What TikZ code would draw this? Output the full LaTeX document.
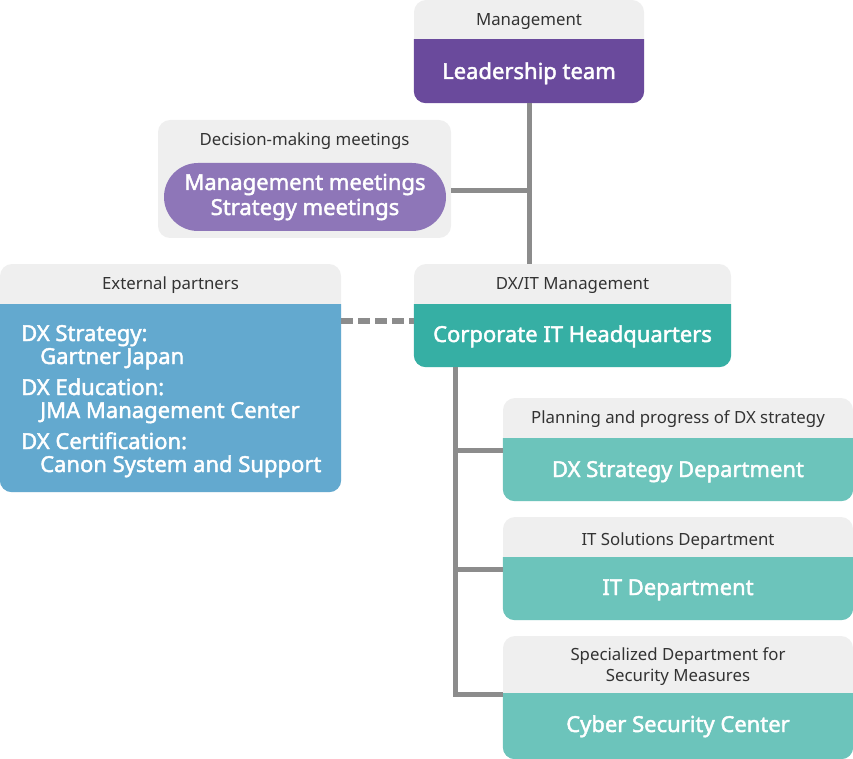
\documentclass[tikz,border=0pt]{standalone}
\usepackage{fontspec}
\setmainfont{Noto Sans}
\newfontfamily\medfont[FakeBold=2]{Noto Sans}
\definecolor{hdr}{HTML}{EFEFEF}
\definecolor{purp}{HTML}{6A4A9C}
\definecolor{pill}{HTML}{8E76B8}
\definecolor{extblue}{HTML}{63A9CF}
\definecolor{tealdark}{HTML}{36AFA4}
\definecolor{teallight}{HTML}{6CC4BB}
\definecolor{conn}{HTML}{8C8C8C}
\definecolor{txt}{HTML}{333333}
\newcommand\lowpart[3]{%
  \begin{scope}
    \clip (#1.west |- 0,#2) rectangle (#1.south east);
    \fill[#3, rounded corners=12pt] (#1.north west) rectangle (#1.south east);
  \end{scope}}
\begin{document}
\begin{tikzpicture}[x=1pt,y=-1pt,
  box/.style={rectangle, rounded corners=12pt, fill=hdr, inner sep=0pt},
  hdrtxt/.style={anchor=base, text=txt, font=\fontsize{16.8}{20}\selectfont, inner sep=0pt},
  maintxt/.style={anchor=base, text=white, font=\fontsize{22}{26}\selectfont\medfont, inner sep=0pt},
  exttxt/.style={anchor=base west, text=white, font=\fontsize{22}{26}\selectfont\medfont, inner sep=0pt},
  link/.style={draw=conn, line width=5pt},
  dashlink/.style={draw=conn, line width=6pt, dash pattern=on 12pt off 5pt}]
\useasboundingbox (0,0) rectangle (853,759);
% boxes
\node[box, minimum width=230pt, minimum height=103pt] (mgmt) at (529,51.5) {};
\lowpart{mgmt}{40}{purp}
\node[box, minimum width=293pt, minimum height=118pt] (dec) at (304.5,179) {};
\node[rectangle, rounded corners=34pt, fill=pill, minimum width=282pt, minimum height=68pt, inner sep=0pt] (pillnode) at (305,197) {};
\node[box, minimum width=341pt, minimum height=228pt] (ext) at (170.5,378) {};
\lowpart{ext}{304}{extblue}
\node[box, minimum width=317pt, minimum height=103pt] (dxit) at (572.5,315.5) {};
\lowpart{dxit}{304}{tealdark}
\node[box, minimum width=350pt, minimum height=103pt] (s1) at (678,449.5) {};
\lowpart{s1}{438}{teallight}
\node[box, minimum width=350pt, minimum height=103pt] (s2) at (678,568.5) {};
\lowpart{s2}{557}{teallight}
\node[box, minimum width=350pt, minimum height=123pt] (s3) at (678,697.5) {};
\lowpart{s3}{693}{teallight}
% connectors
\coordinate (j1) at (529,191);
\coordinate (d1) at (414,321);
\coordinate (trunk) at (455,367);
\coordinate (b1) at (455,450);
\coordinate (b2) at (455,569);
\coordinate (b3) at (455,694);
\draw[link] (mgmt.south) -- (mgmt.south |- dxit.north);
\draw[link] (dec.east |- j1) -- (j1);
\draw[dashlink] (ext.east |- d1) -- (dxit.west |- d1);
\draw[link] (trunk) -- (b3) -- (s3.west |- b3);
\draw[link] (b1) -- (s1.west |- b1);
\draw[link] (b2) -- (s2.west |- b2);
% texts
\node[hdrtxt] (t1) at (529,26) {Management};
\node[maintxt] (t2) at (529,79) {Leadership team};
\node[hdrtxt] (t3) at (304.5,146) {Decision-making meetings};
\node[maintxt] (t4) at (305,190) {Management meetings};
\node[maintxt] (t5) at (305,215) {Strategy meetings};
\node[hdrtxt] (t6) at (170.5,289) {External partners};
\node[exttxt] (e1) at (21,341) {DX Strategy:};
\node[exttxt] (e2) at (40,364) {Gartner Japan};
\node[exttxt] (e3) at (21,395) {DX Education:};
\node[exttxt] (e4) at (40,418) {JMA Management Center};
\node[exttxt] (e5) at (21,449) {DX Certification:};
\node[exttxt] (e6) at (40,472) {Canon System and Support};
\node[hdrtxt] (t7) at (572.5,289) {DX/IT Management};
\node[maintxt] (t8) at (572.5,342) {Corporate IT Headquarters};
\node[hdrtxt] (t9) at (678,423) {Planning and progress of DX strategy};
\node[maintxt] (t10) at (678,477) {DX Strategy Department};
\node[hdrtxt] (t11) at (678,545) {IT Solutions Department};
\node[maintxt] (t12) at (678,595) {IT Department};
\node[hdrtxt] (t13) at (678,660) {Specialized Department for};
\node[hdrtxt] (t14) at (678,681) {Security Measures};
\node[maintxt] (t15) at (678,732) {Cyber Security Center};
\end{tikzpicture}
\end{document}
